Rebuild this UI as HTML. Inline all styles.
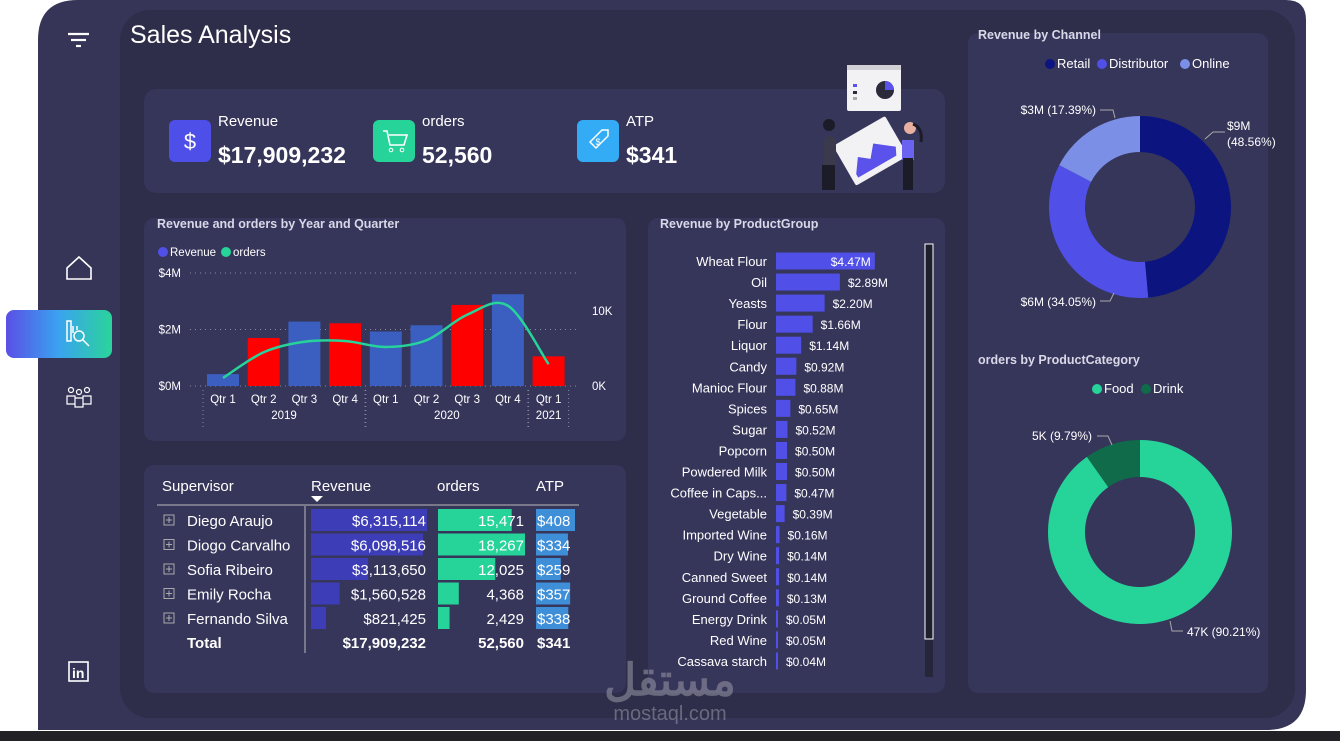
<!DOCTYPE html>
<html><head><meta charset="utf-8"><style>
html,body{margin:0;padding:0;width:1340px;height:741px;overflow:hidden;background:#fff;font-family:"Liberation Sans",sans-serif}
svg{display:block}
text{font-family:"Liberation Sans","Noto Sans CJK SC",sans-serif}
</style></head><body>
<svg id="root" width="1340" height="741" viewBox="0 0 1340 741">
<rect x="0" y="0" width="1340" height="741" fill="#ffffff"/>
<rect x="0" y="731" width="1340" height="10" fill="#222226"/>
<path d="M38 730 V40 Q38 0 78 0 H1286 Q1306 0 1306 20 V690 Q1306 730 1266 730 Z" fill="#363557"/>
<rect x="120" y="10" width="1175" height="708" rx="30" fill="#2e2d4a"/>
<!-- sidebar -->
<g stroke="#fff" stroke-width="2.2">
<line x1="68" y1="34" x2="89" y2="34"/><line x1="71" y1="40" x2="86" y2="40"/><line x1="76" y1="46" x2="81" y2="46"/></g>
<path d="M67 279 V268 L79 257 L91 268 V279 Z" fill="none" stroke="#fff" stroke-width="1.6"/>
<defs><linearGradient id="gr" x1="0" x2="1"><stop offset="0" stop-color="#5a4fe6"/><stop offset="0.5" stop-color="#3aa3f0"/><stop offset="1" stop-color="#2ad49a"/></linearGradient></defs>
<rect x="6" y="310" width="106" height="48" rx="8" fill="url(#gr)"/>
<g stroke="#fff" stroke-width="1.5" fill="none"><rect x="67" y="321" width="4" height="20"/><circle cx="79" cy="336" r="5"/><line x1="83" y1="340" x2="89" y2="346"/><path d="M73 333 V326 M77 330 V326"/></g>
<g stroke="#fff" stroke-width="1.2" fill="none"><circle cx="71" cy="390" r="2.5"/><circle cx="79" cy="392" r="2.5"/><circle cx="87" cy="390" r="2.5"/><path d="M67 396 h8 v8 h-8 z M75 398 h8 v9 h-8 z M83 396 h8 v8 h-8 z"/></g>
<g><rect x="69" y="662" width="19" height="19" fill="none" stroke="#fff" stroke-width="1.6"/><text x="72" y="678" fill="#fff" font-size="14" font-weight="bold">in</text></g>
<text x="130" y="43" fill="#fff" font-size="25">Sales Analysis</text>
<!-- KPI card -->
<rect x="144" y="89" width="801" height="104" rx="12" fill="#36355a"/>
<g><rect x="169" y="120" width="42" height="42" rx="6" fill="#4e4ee8"/><text x="190" y="149" fill="#fff" font-size="22" text-anchor="middle">$</text>
<text x="218" y="126" fill="#fff" font-size="15">Revenue</text><text x="218" y="163" fill="#fff" font-size="23" font-weight="bold">$17,909,232</text></g>
<g><rect x="373" y="120" width="42" height="42" rx="6" fill="#26d49a"/><path d="M383 131 h4 l3 14 h14 l3 -10 h-18" fill="none" stroke="#fff" stroke-width="1.6"/><circle cx="391" cy="150" r="1.8" fill="none" stroke="#fff"/><circle cx="402" cy="150" r="1.8" fill="none" stroke="#fff"/>
<text x="422" y="126" fill="#fff" font-size="15">orders</text><text x="422" y="163" fill="#fff" font-size="23" font-weight="bold">52,560</text></g>
<g><rect x="577" y="120" width="42" height="42" rx="6" fill="#33acf5"/><path d="M590 142 l12 -12 h6 v6 l-12 12 z" fill="none" stroke="#fff" stroke-width="1.5"/><text x="598" y="145" fill="#fff" font-size="9" text-anchor="middle">$</text>
<text x="626" y="126" fill="#fff" font-size="15">ATP</text><text x="626" y="163" fill="#fff" font-size="23" font-weight="bold">$341</text></g>
<!-- illustration -->
<g>
<rect x="847" y="65" width="54" height="46" rx="2" fill="#f2f2f4"/><rect x="847" y="65" width="54" height="5" fill="#d0d0d6"/>
<circle cx="885" cy="90" r="9" fill="#2a2a3a"/><path d="M885 90 V81 A9 9 0 0 1 894 90 Z" fill="#5a52ea"/>
<rect x="853" y="84" width="4" height="3" fill="#5a52ea"/><rect x="853" y="91" width="4" height="3" fill="#2a2a3a"/><rect x="853" y="97" width="4" height="3" fill="#aaa"/>
<g transform="rotate(-30 870 150)"><rect x="840" y="128" width="60" height="46" rx="2" fill="#f2f2f4"/><path d="M846 164 L856 150 L866 158 L876 146 L894 160 L890 168 H846 Z" fill="#5a52ea"/></g>
<path d="M824 140 q6 -8 12 0 v30 h-12 z" fill="#3a3a4c"/><rect x="822" y="165" width="13" height="25" fill="#1c1c28"/><circle cx="829" cy="125" r="6" fill="#1c1c28"/>
<path d="M902 140 h12 v20 h-12 z" fill="#6a62f0"/><rect x="903" y="158" width="10" height="32" fill="#1c1c28"/><circle cx="910" cy="128" r="6" fill="#e8b0a0"/><path d="M913 124 q10 4 8 18" stroke="#1c1c28" stroke-width="3" fill="none"/>
</g>
<!-- combo chart card -->
<rect x="144" y="218" width="482" height="223" rx="10" fill="#36355a"/>
<text x="157" y="228" fill="#d8d8e8" font-size="12.5" font-weight="bold">Revenue and orders by Year and Quarter</text>
<g><circle cx="163" cy="252" r="5" fill="#5050e8"/><text x="170" y="256" fill="#fff" font-size="11.5">Revenue</text><circle cx="226" cy="252" r="5" fill="#26d49a"/><text x="233" y="256" fill="#fff" font-size="11.5">orders</text></g>
<g id="combo"></g>
<!-- table card -->
<rect x="144" y="465" width="482" height="228" rx="10" fill="#36355a"/>
<g id="table"></g>
<!-- product card -->
<rect x="648" y="218" width="297" height="475" rx="10" fill="#36355a"/>
<text x="660" y="228" fill="#d8d8e8" font-size="12.5" font-weight="bold">Revenue by ProductGroup</text>
<rect x="925" y="244" width="8" height="433" fill="#26263a"/>
<rect x="925" y="244" width="8" height="395" fill="#1e1e2c" stroke="#fff" stroke-width="1"/>
<g id="prod"></g>
<!-- right card -->
<rect x="968" y="33" width="300" height="660" rx="10" fill="#36355a"/>
<text x="978" y="39" fill="#d8d8e8" font-size="12.5" font-weight="bold">Revenue by Channel</text>
<g><circle cx="1050" cy="64" r="5" fill="#0c1480"/><text x="1057" y="68" fill="#fff" font-size="13">Retail</text><circle cx="1102" cy="64" r="5" fill="#5050e8"/><text x="1109" y="68" fill="#fff" font-size="13">Distributor</text><circle cx="1185" cy="64" r="5" fill="#7b8fe6"/><text x="1192" y="68" fill="#fff" font-size="13">Online</text></g>
<text x="978" y="364" fill="#d8d8e8" font-size="12.5" font-weight="bold">orders by ProductCategory</text>
<g><circle cx="1097" cy="389" r="5" fill="#26d49a"/><text x="1104" y="393" fill="#fff" font-size="13">Food</text><circle cx="1146" cy="389" r="5" fill="#0f6b4a"/><text x="1153" y="393" fill="#fff" font-size="13">Drink</text></g>
<g id="donuts"></g>
<g opacity="0.55"><text x="670" y="695" fill="#9a9aa8" font-size="44" font-weight="bold" text-anchor="middle">مستقل</text><text x="670" y="720" fill="#9a9aa8" font-size="20" text-anchor="middle">mostaql.com</text></g>
</svg>
<script>
const NS='http://www.w3.org/2000/svg';
function mk(p,tag,a,txt){const e=document.createElementNS(NS,tag);for(const k in a)e.setAttribute(k,a[k]);if(txt!==undefined)e.textContent=txt;p.appendChild(e);return e;}

// combo chart data
const quarters=['Qtr 1','Qtr 2','Qtr 3','Qtr 4','Qtr 1','Qtr 2','Qtr 3','Qtr 4','Qtr 1'];
const years=['2019','2020','2021'];
const yearCounts=[4,4,1];
const revenueM=[0.42,1.70,2.28,2.22,1.93,2.15,2.87,3.25,1.05];
const ordersK=[1.07,4.5,5.9,6.0,5.2,6.1,9.5,10.7,2.9];
const barColors=['#3a5fc0','#ff0000','#3a5fc0','#ff0000','#3a5fc0','#3a5fc0','#ff0000','#3a5fc0','#ff0000'];
const leftTicks=[0,2,4];const leftTickLabels=['$0M','$2M','$4M'];
const rightTicks=[0,10];const rightTickLabels=['0K','10K'];

const cg=document.getElementById('combo');
const y0=386,yL=v=>y0-v*(113/4),yR=v=>y0-v*7.5,xC=i=>223+i*40.7;
leftTicks.forEach((t,i)=>{const y=yL(t);const g=mk(cg,'line',{x1:190,x2:580,y1:y,y2:y,stroke:'#8a8aa0','stroke-dasharray':'1 4'});

const l=mk(cg,'text',{x:181,y:y+4,fill:'#fff','font-size':11.5,'text-anchor':'end'},leftTickLabels[i]);
});
rightTicks.forEach((t,i)=>{const l=mk(cg,'text',{x:592,y:yR(t)+4,fill:'#fff','font-size':11.5},rightTickLabels[i]);
});
revenueM.forEach((v,i)=>{const r=mk(cg,'rect',{x:xC(i)-16,y:yL(v),width:32,height:y0-yL(v),fill:barColors[i]});

const t=mk(cg,'text',{x:xC(i),y:403,fill:'#fff','font-size':11.5,'text-anchor':'middle'},quarters[i]);
});
let idx=0;
years.forEach((yr,j)=>{const n=yearCounts[j];const xs=xC(idx)-20,xe=xC(idx+n-1)+20;
[xs,xe].forEach(x=>{const s=mk(cg,'line',{x1:x,x2:x,y1:390,y2:428,stroke:'#8a8aa0','stroke-dasharray':'1 3'});});
const t=mk(cg,'text',{x:(xs+xe)/2,y:419,fill:'#fff','font-size':11.5,'text-anchor':'middle'},yr);
idx+=n;});
const pts=ordersK.map((v,i)=>[xC(i),yR(v)]);
let d='M'+pts[0][0]+' '+pts[0][1];
for(let i=0;i<pts.length-1;i++){const p0=pts[Math.max(0,i-1)],p1=pts[i],p2=pts[i+1],p3=pts[Math.min(pts.length-1,i+2)];
const c1=[p1[0]+(p2[0]-p0[0])/6,p1[1]+(p2[1]-p0[1])/6],c2=[p2[0]-(p3[0]-p1[0])/6,p2[1]-(p3[1]-p1[1])/6];
d+=` C${c1[0]} ${c1[1]} ${c2[0]} ${c2[1]} ${p2[0]} ${p2[1]}`;}
const ln=mk(cg,'path',{d:d,fill:'none',stroke:'#26d49a','stroke-width':2.5});


// table data
const supervisors=['Diego Araujo','Diogo Carvalho','Sofia Ribeiro','Emily Rocha','Fernando Silva'];
const supRevenue=[6315114,6098516,3113650,1560528,821425];
const supOrders=[15471,18267,12025,4368,2429];
const supATP=[408,334,259,357,338];
const totals=['$17,909,232','52,560','$341'];
const tg=document.getElementById('table');
[['Supervisor',162],['Revenue',311],['orders',437],['ATP',536]].forEach(h=>{const t=mk(tg,'text',{x:h[1],y:491,fill:'#fff','font-size':15},h[0]);
});
mk(tg,'path',{d:'M311 496 h12 l-6 6 z',fill:'#fff'});
mk(tg,'line',{x1:157,x2:579,y1:505,y2:505,stroke:'#bbb'});
mk(tg,'line',{x1:305,x2:305,y1:506,y2:653,stroke:'#bbb'});
const fmt=n=>n.toLocaleString('en-US');
const maxR=Math.max(...supRevenue),maxO=Math.max(...supOrders),maxA=Math.max(...supATP);
supervisors.forEach((s,i)=>{const y=520+i*24.5;
const ic=mk(tg,'rect',{x:164,y:y-5,width:10,height:10,fill:'none',stroke:'#aaa'});
mk(tg,'path',{d:`M166 ${y} h6 M169 ${y-3} v6`,stroke:'#aaa'});
const n=mk(tg,'text',{x:187,y:y+6,fill:'#fff','font-size':15},s);
const b1=mk(tg,'rect',{x:311,y:y-11,width:116*supRevenue[i]/maxR,height:22,fill:'#3d3db8'});
const b2=mk(tg,'rect',{x:438,y:y-11,width:87*supOrders[i]/maxO,height:22,fill:'#26d49a'});
const b3=mk(tg,'rect',{x:536,y:y-11,width:39*supATP[i]/maxA,height:22,fill:'#3f8ed8'});
mk(tg,'text',{x:426,y:y+6,fill:'#fff','font-size':15,'text-anchor':'end'},'$'+fmt(supRevenue[i]));
mk(tg,'text',{x:524,y:y+6,fill:'#fff','font-size':15,'text-anchor':'end'},fmt(supOrders[i]));
mk(tg,'text',{x:537,y:y+6,fill:'#fff','font-size':15},'$'+supATP[i]);});
mk(tg,'text',{x:187,y:648,fill:'#fff','font-size':15,'font-weight':'bold'},'Total');
mk(tg,'text',{x:426,y:648,fill:'#fff','font-size':15,'font-weight':'bold','text-anchor':'end'},totals[0]);
mk(tg,'text',{x:524,y:648,fill:'#fff','font-size':15,'font-weight':'bold','text-anchor':'end'},totals[1]);
mk(tg,'text',{x:537,y:648,fill:'#fff','font-size':15,'font-weight':'bold'},totals[2]);

// product group data
const products=['Wheat Flour','Oil','Yeasts','Flour','Liquor','Candy','Manioc Flour','Spices','Sugar','Popcorn','Powdered Milk','Coffee in Caps...','Vegetable','Imported Wine','Dry Wine','Canned Sweet','Ground Coffee','Energy Drink','Red Wine','Cassava starch'];
const productRev=[4.47,2.89,2.20,1.66,1.14,0.92,0.88,0.65,0.52,0.50,0.50,0.47,0.39,0.16,0.14,0.14,0.13,0.05,0.05,0.04];
const pg=document.getElementById('prod');
const px=v=>v*22.1;
products.forEach((p,i)=>{const y=261+i*21.05;
const l=mk(pg,'text',{x:767,y:y+5,fill:'#fff','font-size':13,'text-anchor':'end'},p);
const w=Math.max(2,px(productRev[i]));
const b=mk(pg,'rect',{x:776,y:y-8.5,width:w,height:17,fill:'#5050e8'});
const lab='$'+productRev[i].toFixed(2)+'M';
const inside=i===0;
const t=mk(pg,'text',{x:inside?776+w-4:776+w+8,y:y+5,fill:'#fff','font-size':12,'text-anchor':inside?'end':'start'},lab);
});

// donut data
const channels=['Retail','Distributor','Online'];
const channelPct=[48.56,34.05,17.39];
const channelLabels=['$9M','$6M (34.05%)','$3M (17.39%)'];
const channelColors=['#0c1480','#5050e8','#7b8fe6'];
const categories=['Food','Drink'];
const categoryPct=[90.21,9.79];
const categoryLabels=['47K (90.21%)','5K (9.79%)'];
const categoryColors=['#26d49a','#0f6b4a'];
const dg=document.getElementById('donuts');
function donut(cx,cy,R,r,vals,cols,name){let a=0;const tot=vals.reduce((s,v)=>s+v,0);
vals.forEach((v,i)=>{const a0=a/tot*2*Math.PI,a1=(a+v)/tot*2*Math.PI;a+=v;
const P=(rad,ang)=>[cx+rad*Math.sin(ang),cy-rad*Math.cos(ang)];const lg=(a1-a0)>Math.PI?1:0;
const o0=P(R,a0),o1=P(R,a1),i1=P(r,a1),i0=P(r,a0);
const s=mk(dg,'path',{d:`M${o0} A${R} ${R} 0 ${lg} 1 ${o1} L${i1} A${r} ${r} 0 ${lg} 0 ${i0} Z`,fill:cols[i]});
});}
donut(1140,207,91,55,channelPct,channelColors,'channel');
donut(1140,532,92,55,categoryPct,categoryColors,'category');
function lbl(x,y,txt,anchor,pts){mk(dg,'polyline',{points:pts,fill:'none',stroke:'#aaa'});
const t=mk(dg,'text',{x:x,y:y,fill:'#fff','font-size':12,'text-anchor':anchor},txt);return t;}
lbl(1227,130,channelLabels[0],'start','1205,139 1213,132 1225,132');
mk(dg,'text',{x:1227,y:146,fill:'#fff','font-size':12},'(48.56%)');
lbl(1096,306,channelLabels[1],'end','1100,301 1110,301 1114,293');
lbl(1096,114,channelLabels[2],'end','1100,110 1113,110 1115,118');
lbl(1187,636,categoryLabels[0],'start','1170,621 1172,631 1183,631');
lbl(1092,440,categoryLabels[1],'end','1097,436 1108,436 1112,445');
</script>
</body></html>
